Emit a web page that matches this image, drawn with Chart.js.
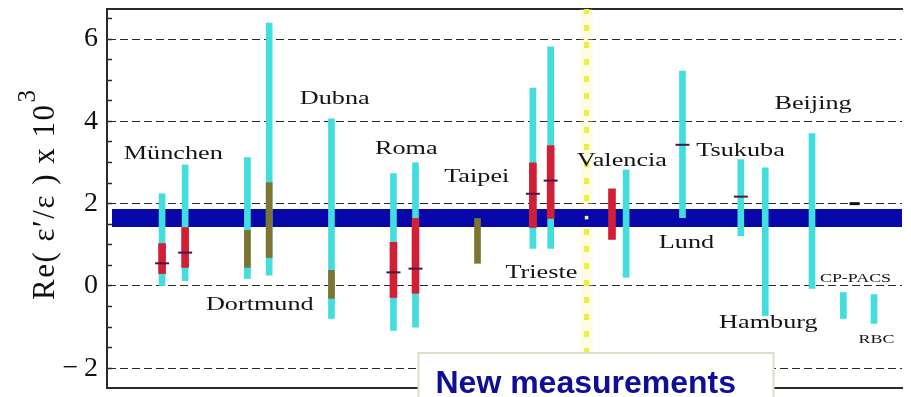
<!DOCTYPE html>
<html>
<head>
<meta charset="utf-8">
<script src="https://cdn.jsdelivr.net/npm/chart.js@4/dist/chart.umd.min.js"></script>
<style>
  html, body { margin: 0; padding: 0; background: #ffffff; }
  #wrap { width: 911px; height: 397px; position: relative; }
</style>
</head>
<body>
<div id="wrap"><canvas id="chart"></canvas></div>
<script>
// Re(eps'/eps) x 10^3 : measurements and lattice/theory estimates by group

// slot of each entry along the horizontal axis (0 .. 804)
const slotPos   = [55.7, 79, 142, 164, 227, 289.7, 312, 374.7, 430.7, 448.7, 510.7, 525, 582, 641, 665.7, 713, 744.7, 775.7];
const groups    = ['München', 'München', 'Dortmund', 'Dortmund', 'Dubna', 'Roma', 'Roma', 'Taipei', 'Trieste', 'Trieste',
                   'Valencia', 'Valencia', 'Lund', 'Tsukuba', 'Hamburg', 'Beijing', 'CP-PACS', 'RBC'];

// full allowed range (light band)
const fullLow   = [0.01, 0.13, 0.18, 0.26, -0.79, -1.08, -1.00, null, 0.91, 0.91, null, 0.21, 1.66, 1.22, -0.72, -0.06, -0.79, -0.91];
const fullHigh  = [2.24, 2.94, 3.12, 6.39, 4.06, 2.73, 2.99, null, 4.81, 5.81, null, 2.82, 5.22, 3.07, 2.87, 3.70, -0.16, -0.21];

// inner (preferred) range and its kind
const innerLow  = [0.30, 0.45, 0.45, 0.69, -0.30, -0.28, -0.18, 0.55, 1.42, 1.64, 1.13, null, null, null, null, null, null, null];
const innerHigh = [1.03, 1.42, 1.35, 2.51, 0.38, 1.06, 1.64, 1.64, 2.99, 3.41, 2.36, null, null, null, null, null, null, null];
const innerKind = ['red', 'red', 'olive', 'olive', 'olive', 'red', 'red', 'olive', 'red', 'red', 'red', null, null, null, null, null, null, null];

// central values
const central   = [0.55, 0.81, null, null, null, 0.33, 0.42, null, 2.24, 2.56, null, null, 3.43, 2.17, null, null, null, null];

// extra estimate shown only as a mark
const extraSlot = 756;
const extraValue = 2.0;

// world average band
const avgLow = 1.43;
const avgHigh = 1.87;
const avgCentre = 1.66;
const bandStart = 5;

// separation between older and newer measurements
const dividerSlot = 485;

// axis ranges
const xMin = 0, xMax = 804;
const yMin = -2.48, yMax = 6.73;

// group name annotations (anchor slot, anchor value)
const labelNames = ['München', 'Dortmund', 'Dubna', 'Roma', 'Taipei', 'Trieste', 'Valencia', 'Tsukuba', 'Lund', 'Beijing', 'Hamburg', 'CP-PACS', 'RBC'];
const labelSlot  = [17, 100, 195, 271, 341, 403, 475, 596, 558, 675, 619, 721, 760];
const labelValue = [3.09, -0.59, 4.43, 3.215, 2.537, 0.186, 2.924, 3.167, 0.913, 4.306, -1.026, 0.089, -1.39];
const smallLabels = ['CP-PACS', 'RBC'];

const SERIF = '"Liberation Serif", "DejaVu Serif", serif';
const SANS = '"Liberation Sans", Arial, sans-serif';

const pick = (lo, hi, keep) => slotPos
  .map((x, i) => ({ x, y: [lo[i], hi[i]], i }))
  .filter(p => p.y[0] !== null && p.y[1] !== null && (!keep || keep(p.i)))
  .map(p => ({ x: p.x, y: p.y }));

const fullBars  = pick(fullLow, fullHigh);
const redBars   = pick(innerLow, innerHigh, i => innerKind[i] === 'red');
const oliveBars = pick(innerLow, innerHigh, i => innerKind[i] === 'olive');
const centreMarks = slotPos.map((x, i) => ({ x, y: central[i] })).filter(p => p.y !== null);

const decorations = {
  id: 'decorations',
  afterDatasetsDraw(chart) {
    const { ctx, scales: { x, y } } = chart;
    ctx.save();
    ctx.fillStyle = '#151515';
    ctx.textBaseline = 'alphabetic';
    ctx.textAlign = 'left';
    labelNames.forEach((name, i) => {
      const small = smallLabels.includes(name);
      ctx.font = (small ? 13 : 19) + 'px ' + SERIF;
      ctx.save();
      ctx.translate(x.getPixelForValue(labelSlot[i]), y.getPixelForValue(labelValue[i]));
      ctx.scale(1.38, 1);
      ctx.fillText(name, 0, 0);
      ctx.restore();
    });
    ctx.restore();
  },
  afterDraw(chart) {
    const { ctx, chartArea, scales: { x, y } } = chart;

    // vertical axis title with superscript exponent
    ctx.save();
    ctx.fillStyle = '#111';
    ctx.translate(chartArea.left - 53, chartArea.bottom - 88);
    ctx.rotate(-Math.PI / 2);
    ctx.textBaseline = 'alphabetic';
    ctx.textAlign = 'left';
    ctx.font = '31px ' + SERIF;
    if ('letterSpacing' in ctx) ctx.letterSpacing = '1.5px';
    const main = 'Re( \u03b5\u2032/\u03b5 ) x 10';
    ctx.fillText(main, 0, 0);
    const w = ctx.measureText(main).width;
    ctx.font = '25px ' + SERIF;
    ctx.fillText('3', w + 1, -19);
    ctx.restore();

    // caption box
    const left = x.getPixelForValue(315);
    const right = x.getPixelForValue(674);
    const top = y.getPixelForValue(-1.63);
    const bottom = chart.height + 4;
    ctx.save();
    ctx.fillStyle = '#ffffff';
    ctx.fillRect(left, top, right - left, bottom - top);
    ctx.strokeStyle = '#e0dccb';
    ctx.lineWidth = 2;
    ctx.strokeRect(left, top, right - left, bottom - top);
    ctx.fillStyle = '#0e0e96';
    ctx.font = 'bold 32px ' + SANS;
    ctx.textBaseline = 'alphabetic';
    ctx.textAlign = 'left';
    ctx.fillText('New measurements', left + 17, top + 40);
    ctx.restore();
  }
};

const hidden = { display: false };
const noPad = s => { s.paddingTop = 0; s.paddingBottom = 0; s.paddingLeft = 0; s.paddingRight = 0; };

new Chart(document.getElementById('chart'), {
  type: 'bar',
  data: {
    datasets: [
      {
        type: 'line', label: 'divider haze', order: 20,
        data: [{ x: dividerSlot, y: yMin }, { x: dividerSlot, y: yMax }],
        borderColor: 'rgba(250, 250, 170, 0.32)', borderWidth: 12, pointRadius: 0, fill: false
      },
      {
        type: 'line', label: 'divider', order: 19,
        data: [{ x: dividerSlot, y: yMin }, { x: dividerSlot, y: yMax }],
        borderColor: '#eeee3c', borderWidth: 5, borderDash: [6, 11], pointRadius: 0, fill: false
      },
      {
        type: 'line', label: 'average low', order: 18,
        data: [{ x: bandStart, y: avgLow }, { x: xMax, y: avgLow }],
        borderWidth: 0, pointRadius: 0, fill: false
      },
      {
        type: 'line', label: 'average high', order: 17,
        data: [{ x: bandStart, y: avgHigh }, { x: xMax, y: avgHigh }],
        borderWidth: 0, pointRadius: 0, fill: '-1', backgroundColor: '#0707aa'
      },
      {
        type: 'line', label: 'average centre', order: 16, showLine: false,
        data: [{ x: dividerSlot, y: avgCentre }],
        pointStyle: 'rect', pointRadius: 2.5, pointBackgroundColor: '#f2f2a8', pointBorderWidth: 0
      },
      {
        label: 'full range', order: 10, data: fullBars,
        backgroundColor: '#42dede', grouped: false, maxBarThickness: 6, barPercentage: 1, categoryPercentage: 1
      },
      {
        label: 'inner range', order: 9, data: redBars,
        backgroundColor: '#d21f36', grouped: false, maxBarThickness: 7, barPercentage: 1, categoryPercentage: 1
      },
      {
        label: 'inner range (olive)', order: 8, data: oliveBars,
        backgroundColor: '#7c7430', grouped: false, maxBarThickness: 6, barPercentage: 1, categoryPercentage: 1
      },
      {
        type: 'line', label: 'central value', order: 2, showLine: false, data: centreMarks,
        pointStyle: 'line', pointRadius: 7, pointBorderWidth: 2, pointBorderColor: '#4a1840'
      },
      {
        type: 'line', label: 'extra mark', order: 1, showLine: false, data: [{ x: extraSlot, y: extraValue }],
        pointStyle: 'line', pointRadius: 5, pointBorderWidth: 3, pointBorderColor: '#111'
      }
    ]
  },
  options: {
    responsive: true,
    maintainAspectRatio: false,
    animation: false,
    layout: { padding: 0 },
    plugins: { legend: hidden, tooltip: { enabled: false } },
    scales: {
      x: {
        type: 'linear', position: 'bottom', min: xMin, max: xMax, offset: false,
        ticks: { display: false }, grid: { display: false, drawTicks: false, offset: false },
        border: { display: true, color: '#2a2a2a', width: 2 },
        afterFit(s) { s.height = 9; noPad(s); }
      },
      xTop: {
        type: 'linear', position: 'top', min: xMin, max: xMax, offset: false,
        ticks: { display: false }, grid: { display: false, drawTicks: false, offset: false },
        border: { display: true, color: '#2a2a2a', width: 2 },
        afterFit(s) { s.height = 8; noPad(s); }
      },
      y: {
        type: 'linear', position: 'left', min: yMin, max: yMax,
        ticks: {
          stepSize: 0.5, autoSkip: false, includeBounds: false, padding: 14,
          color: '#111', font: { family: SERIF, size: 28 },
          callback: v => (Math.abs(v % 2) < 1e-6 ? (v < 0 ? '\u2212\u2009' + Math.abs(v) : String(v)) : '')
        },
        grid: {
          color: c => (c.tick && Math.abs(c.tick.value % 2) < 1e-6 ? '#2a2a2a' : 'rgba(0,0,0,0)'),
          lineWidth: 1, tickColor: '#2a2a2a', tickWidth: 1.5, tickLength: -5, drawTicks: true
        },
        border: { display: true, color: '#2a2a2a', width: 2, dash: [8, 4] },
        title: { display: false },
        afterFit(s) { s.width = 107; noPad(s); }
      }
    }
  },
  plugins: [decorations]
});
</script>
</body>
</html>
